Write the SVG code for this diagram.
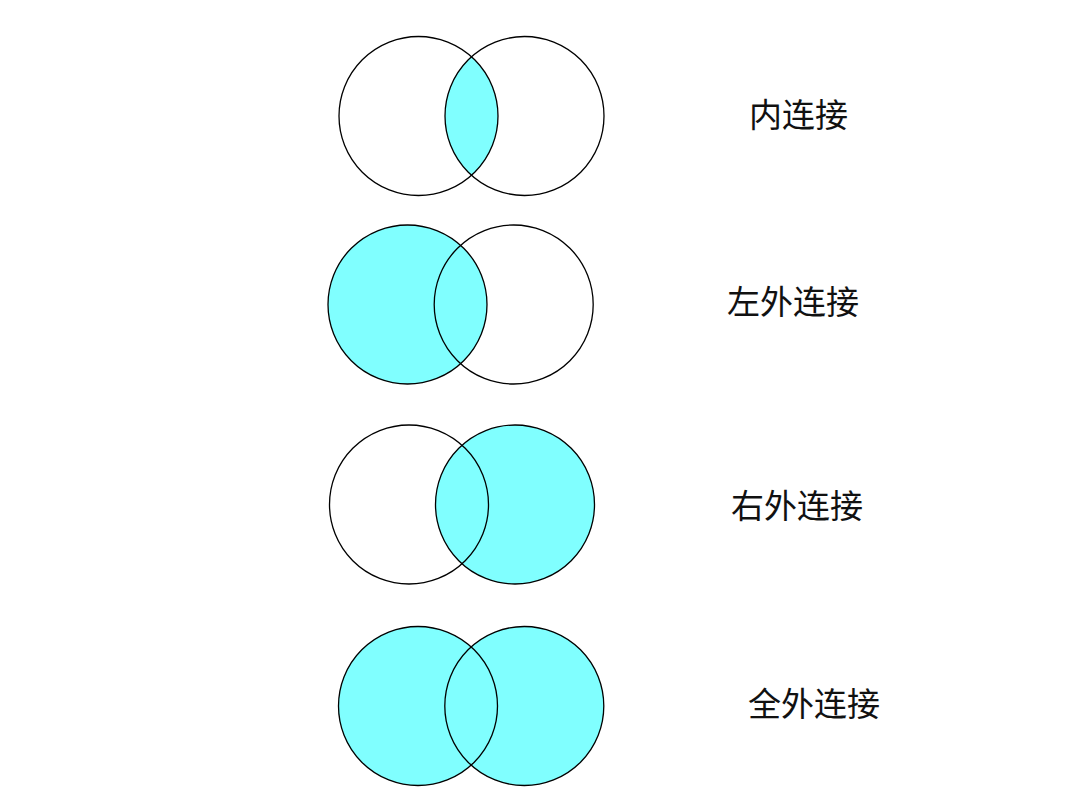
<svg xmlns="http://www.w3.org/2000/svg" width="1087" height="795" viewBox="0 0 1087 795">
  <style>
    .fill { fill: #80ffff; stroke: none; }
    .ring { fill: none; stroke: #000; stroke-width: 1.3; }
    .label { font-family: "Noto Sans CJK SC", "Noto Sans", sans-serif; font-size: 33px; fill: #111; }
  </style>
  <rect x="0" y="0" width="1087" height="795" fill="#fff"/>

  <g id="inner-join">
    <path class="fill" d="M 471.5 56.7 A 79.5 79.5 0 0 1 471.5 175.3 A 79.5 79.5 0 0 1 471.5 56.7 Z"/>
    <circle class="ring" cx="418.5" cy="116" r="79.5"/>
    <circle class="ring" cx="524.5" cy="116" r="79.5"/>
    <text class="label" x="749" y="127">内连接</text>
  </g>

  <g id="left-outer-join">
    <circle class="fill" cx="407.5" cy="304.5" r="79.5"/>
    <circle class="ring" cx="407.5" cy="304.5" r="79.5"/>
    <circle class="ring" cx="513.7" cy="304.5" r="79.5"/>
    <text class="label" x="727" y="314">左外连接</text>
  </g>

  <g id="right-outer-join">
    <circle class="fill" cx="515" cy="504.5" r="79.5"/>
    <circle class="ring" cx="409" cy="504.5" r="79.5"/>
    <circle class="ring" cx="515" cy="504.5" r="79.5"/>
    <text class="label" x="731" y="518">右外连接</text>
  </g>

  <g id="full-outer-join">
    <circle class="fill" cx="418" cy="706" r="79.5"/>
    <circle class="fill" cx="524.3" cy="706" r="79.5"/>
    <circle class="ring" cx="418" cy="706" r="79.5"/>
    <circle class="ring" cx="524.3" cy="706" r="79.5"/>
    <text class="label" x="748" y="716">全外连接</text>
  </g>

  <g id="connectors"></g>
</svg>
